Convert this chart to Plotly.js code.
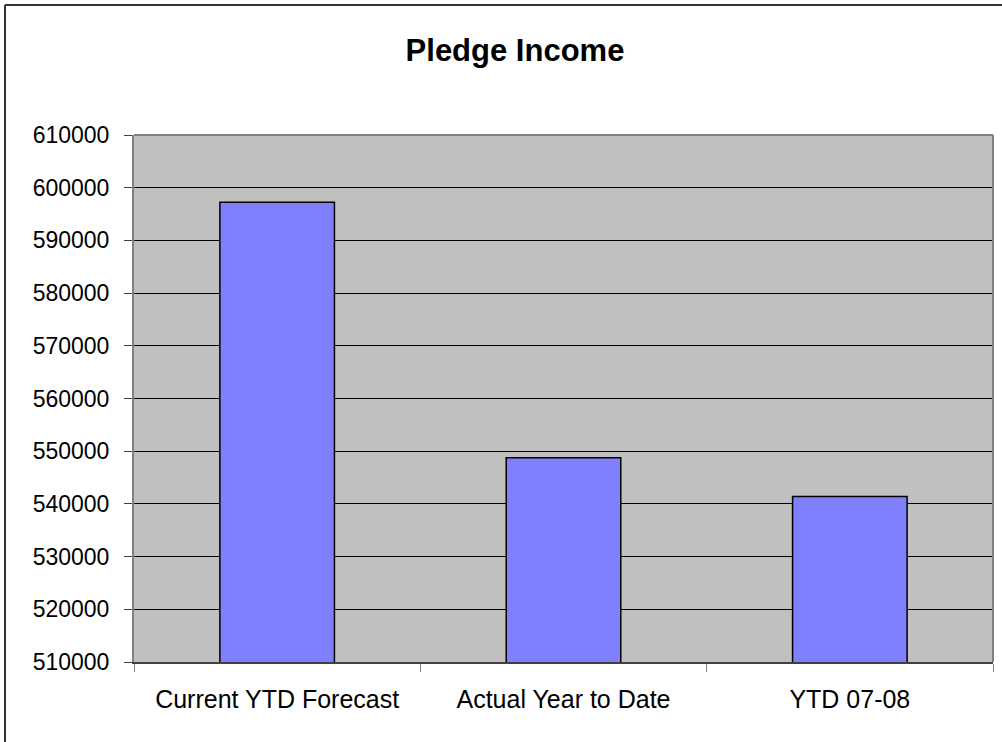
<!DOCTYPE html>
<html>
<head>
<meta charset="utf-8">
<script src="https://cdn.plot.ly/plotly-3.0.1.min.js"></script>
<style>
html,body{margin:0;padding:0;background:#fff;}
#chart{width:1002px;height:742px;}
</style>
</head>
<body>
<div id="chart"></div>
<script>
const categories = ["Current YTD Forecast", "Actual Year to Date", "YTD 07-08"];
const pledgeIncome = [597230, 548780, 541400];
const yTickValues = [510000, 520000, 530000, 540000, 550000, 560000, 570000, 580000, 590000, 600000, 610000];

const W = 1002, H = 742;
const M = {l: 134, r: 9, t: 135, b: 80};
const pw = W - M.l - M.r, ph = H - M.t - M.b;
const px = v => (v - M.l) / pw;
const py = v => (H - M.b - v) / ph;

const trace = {
  type: 'bar',
  x: categories,
  y: pledgeIncome,
  marker: {color: '#8080FF', line: {color: '#000000', width: 1.5}},
  hoverinfo: 'x+y'
};

const layout = {
  width: W, height: H,
  margin: M,
  paper_bgcolor: '#ffffff',
  plot_bgcolor: '#C0C0C0',
  bargap: 0.6,
  showlegend: false,
  font: {family: 'Liberation Sans, Arial, sans-serif', color: '#000', size: 23},
  title: {text: '<b>Pledge Income</b>', font: {size: 31, family: 'Liberation Sans, Arial, sans-serif', color: '#000'},
          x: 515 / W, xanchor: 'center', y: 1 - 50 / H, yanchor: 'middle'},
  xaxis: {
    type: 'category',
    showgrid: false,
    tickson: 'boundaries',
    ticks: 'outside', ticklen: 8, tickcolor: '#808080', tickwidth: 1,
    showline: true, linecolor: '#404040', linewidth: 1.5,
    mirror: false,
    tickfont: {size: 25},
    ticklabelstandoff: 14,
    fixedrange: true
  },
  yaxis: {
    range: [510000, 610000],
    tickvals: yTickValues,
    ticktext: yTickValues.map(String),
    ticks: 'outside', ticklen: 8, tickcolor: '#404040',
    showgrid: true, gridcolor: '#000000', gridwidth: 1,
    showline: true, linecolor: '#808080', linewidth: 2,
    zeroline: false,
    tickfont: {size: 23},
    ticklabelstandoff: 10,
    fixedrange: true
  },
  shapes: [
    {type: 'line', xref: 'paper', yref: 'paper', x0: 0, x1: 1, y0: 1, y1: 1, line: {color: '#808080', width: 2}},
    {type: 'line', xref: 'paper', yref: 'paper', x0: 1, x1: 1, y0: 0, y1: 1, line: {color: '#808080', width: 2}},
    {type: 'line', xref: 'paper', yref: 'paper', x0: px(5), x1: px(1002), y0: py(5), y1: py(5), line: {color: '#333333', width: 2}},
    {type: 'line', xref: 'paper', yref: 'paper', x0: px(5), x1: px(5), y0: py(5), y1: py(742), line: {color: '#333333', width: 2}}
  ]
};

Plotly.newPlot('chart', [trace], layout, {displayModeBar: false, staticPlot: true});
</script>
</body>
</html>
